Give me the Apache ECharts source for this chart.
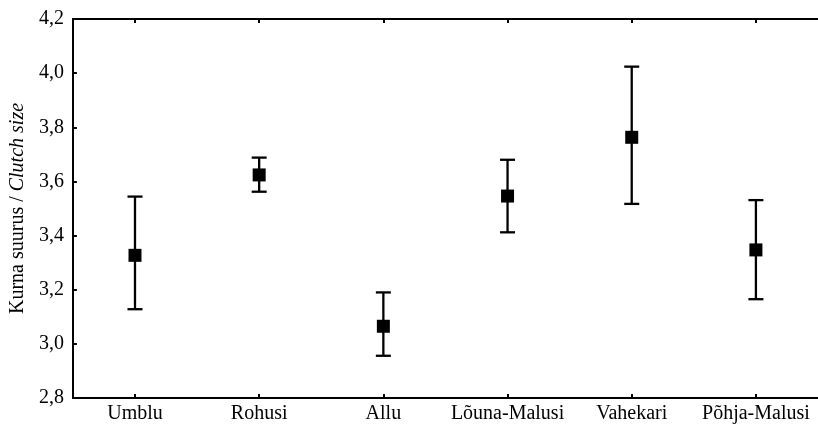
<!DOCTYPE html>
<html>
<head>
<meta charset="utf-8">
<script src="https://cdn.jsdelivr.net/npm/echarts@6/dist/echarts.min.js"></script>
<style>
html,body{margin:0;padding:0;background:#fff;}
#c{width:818px;height:428px;}
</style>
</head>
<body>
<div id="c"></div>
<script>
const categories = ['Umblu', 'Rohusi', 'Allu', 'Lõuna-Malusi', 'Vahekari', 'Põhja-Malusi'];
const means = [3.327, 3.624, 3.065, 3.546, 3.763, 3.347];
const lowers = [3.128, 3.562, 2.956, 3.412, 3.517, 3.165];
const uppers = [3.544, 3.688, 3.190, 3.680, 4.024, 3.531];
const yTicks = { min: 2.8, max: 4.2, interval: 0.2 };

const FONT = '"Liberation Serif", "Times New Roman", serif';
const chart = echarts.init(document.getElementById('c'), null, { renderer: 'canvas' });

const errData = categories.map((c, i) => [i, lowers[i], uppers[i]]);
const meanData = categories.map((c, i) => [i, means[i]]);

const axisLine = { show: true, lineStyle: { color: '#000', width: 2 } };

chart.setOption({
  animation: false,
  backgroundColor: '#fff',
  grid: { left: 72, top: 19, bottom: 30, right: -5 },
  xAxis: [{
    type: 'category',
    data: categories,
    position: 'bottom',
    boundaryGap: true,
    axisLine: axisLine,
    axisTick: { show: true, inside: true, length: 4, alignWithLabel: true, lineStyle: { color: '#000', width: 2 } },
    axisLabel: { color: '#000', fontFamily: FONT, fontSize: 20, margin: 6, interval: 0 },
    splitLine: { show: false }
  }, {
    type: 'category',
    data: categories,
    position: 'top',
    boundaryGap: true,
    axisLine: axisLine,
    axisTick: { show: true, inside: true, length: 4, alignWithLabel: true, lineStyle: { color: '#000', width: 2 } },
    axisLabel: { show: false },
    splitLine: { show: false }
  }],
  yAxis: [{
    type: 'value',
    min: yTicks.min,
    max: yTicks.max,
    interval: yTicks.interval,
    axisLine: axisLine,
    axisTick: { show: true, inside: true, length: 4, lineStyle: { color: '#000', width: 2 } },
    axisLabel: {
      color: '#000', fontFamily: FONT, fontSize: 20, margin: 9,
      formatter: v => v.toFixed(1).replace('.', ',')
    },
    splitLine: { show: false },
    name: '{a|Kurna suurus / }{b|Clutch size}',
    nameLocation: 'middle',
    nameGap: 44,
    nameRotate: 90,
    nameTextStyle: {
      color: '#000', fontFamily: FONT, fontSize: 20,
      rich: {
        a: { fontFamily: FONT, fontSize: 20, color: '#000' },
        b: { fontFamily: FONT, fontSize: 20, color: '#000', fontStyle: 'italic' }
      }
    }
  }],
  series: [{
    type: 'custom',
    xAxisIndex: 0,
    yAxisIndex: 0,
    data: errData,
    z: 2,
    silent: true,
    renderItem: function (params, api) {
      const i = api.value(0);
      const lo = api.coord([i, api.value(1)]);
      const hi = api.coord([i, api.value(2)]);
      const half = 7.5;
      const style = { stroke: '#000', lineWidth: 2.3, fill: null, opacity: 1 };
      return {
        type: 'group',
        children: [
          { type: 'line', shape: { x1: lo[0], y1: lo[1], x2: hi[0], y2: hi[1] }, style: style },
          { type: 'line', shape: { x1: lo[0] - half, y1: lo[1], x2: lo[0] + half, y2: lo[1] }, style: style },
          { type: 'line', shape: { x1: hi[0] - half, y1: hi[1], x2: hi[0] + half, y2: hi[1] }, style: style }
        ]
      };
    }
  }, {
    type: 'scatter',
    xAxisIndex: 0,
    yAxisIndex: 0,
    data: meanData,
    symbol: 'rect',
    symbolSize: 13,
    itemStyle: { color: '#000', opacity: 1 },
    z: 3,
    silent: true
  }]
});
</script>
</body>
</html>
